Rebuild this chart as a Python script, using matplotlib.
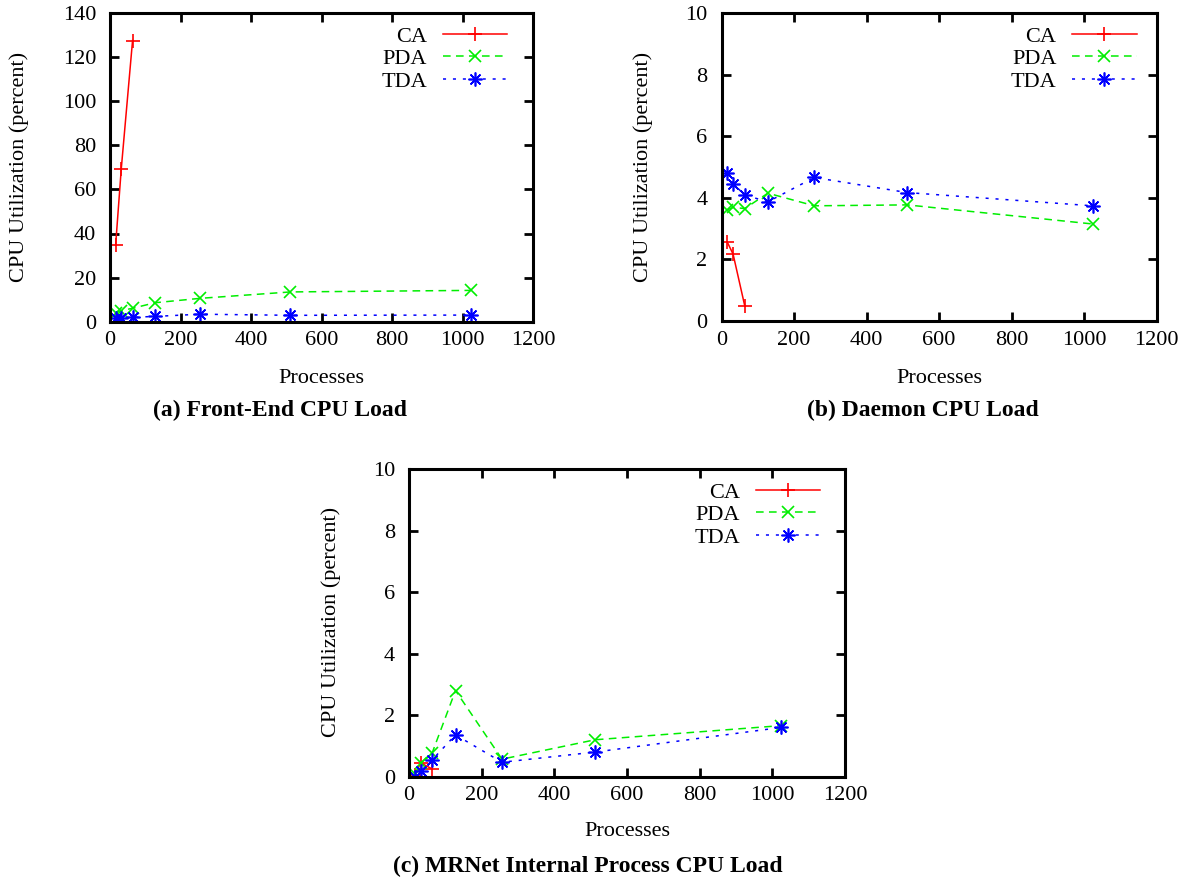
"""CPU load of the front-end, daemons and MRNet internal processes."""

import matplotlib
matplotlib.use("Agg")
import matplotlib.pyplot as plt

# process counts used in the runs
procs = [16, 32, 64, 128, 256, 512, 1024]
ca_procs = [16, 32, 64]

# (a) front-end CPU utilization (percent)
fe_ca = [34.8, 69.4, 127.5]
fe_pda = [4.0, 5.0, 6.1, 8.6, 10.6, 13.5, 14.2]
fe_tda = [1.5, 1.8, 2.0, 2.4, 3.4, 2.9, 3.0]

# (b) daemon CPU utilization (percent)
dm_ca = [2.56, 2.17, 0.5]
dm_pda = [3.61, 3.69, 3.65, 4.15, 3.74, 3.77, 3.15]
dm_tda = [4.82, 4.46, 4.09, 3.87, 4.66, 4.17, 3.74]

# (c) MRNet internal process CPU utilization (percent)
mr_ca = [0.05, 0.45, 0.25]
mr_pda = [0.1, 0.44, 0.78, 2.8, 0.57, 1.2, 1.66]
mr_tda = [0.0, 0.18, 0.55, 1.36, 0.47, 0.8, 1.6]

plt.rcParams["font.family"] = ["Liberation Serif", "DejaVu Serif"]
FS = 16
ASTERISK = (8, 2, 0)


def draw_panel(ax, ca, pda, tda, ymax, ystep, key_dx=0.0):
    ax.plot(ca_procs, ca, color="#ff0000", lw=1.1, marker="+", ms=10,
            mew=1.2, label="CA")
    ax.plot(procs, pda, color="#00ee00", lw=1.1, marker="x", ms=9,
            mew=1.2, dashes=(5, 3.5), label="PDA")
    ax.plot(procs, tda, color="#0000ff", lw=1.1, marker=ASTERISK, ms=10,
            mew=1.2, dashes=(2, 4.5), label="TDA")

    ax.set_xlim(0, 1200)
    ax.set_ylim(0, ymax)
    ax.set_xticks(range(0, 1201, 200))
    ax.set_yticks(range(0, ymax + 1, ystep))
    ax.tick_params(direction="in", length=6.5, width=2, labelsize=FS,
                   top=True, right=True)
    ax.tick_params(axis="y", pad=10)
    ax.tick_params(axis="x", pad=7)
    for sp in ax.spines.values():
        sp.set_linewidth(2.2)

    # key sits in the top right corner, labels right-aligned before samples
    bb = ax.get_position()
    w_px, h_px = bb.width * W, bb.height * H
    ax.legend(loc="upper right", frameon=False, fontsize=FS,
              markerfirst=False, handlelength=2.9, handletextpad=0.7,
              labelspacing=0.09, borderaxespad=0.5,
              bbox_to_anchor=(1 + key_dx / w_px, 1 + 7 / h_px))


fig = plt.figure(figsize=(11.88, 8.81), dpi=100)
W, H = 1188.0, 881.0


def add_axes(left, right, top, bottom):
    return fig.add_axes([left / W, 1 - bottom / H, (right - left) / W,
                         (bottom - top) / H])


ax_a = add_axes(110, 533, 13, 321.7)
ax_b = add_axes(721.5, 1156.5, 13, 321)
ax_c = add_axes(409, 845, 469, 776.7)

draw_panel(ax_a, fe_ca, fe_pda, fe_tda, 140, 20, key_dx=-6)
draw_panel(ax_b, dm_ca, dm_pda, dm_tda, 10, 2)
draw_panel(ax_c, mr_ca, mr_pda, mr_tda, 10, 2, key_dx=-5)

# axis labels and captions
ylab = "CPU Utilization (percent)"
for x, y in [(19, 167), (643, 167), (331, 622)]:
    fig.text(x / W, 1 - y / H, ylab, rotation=90, ha="center", va="center",
             fontsize=FS)
for x, y in [(321, 378), (939, 378), (627, 832)]:
    fig.text(x / W, 1 - y / H, "Processes", ha="center", va="center",
             fontsize=FS)

captions = [
    ("(a) Front-End CPU Load", 280, 410),
    ("(b) Daemon CPU Load", 923, 410),
    ("(c) MRNet Internal Process CPU Load", 588, 866),
]
for txt, x, y in captions:
    fig.text(x / W, 1 - y / H, txt, ha="center", va="center",
             fontsize=17, fontweight="bold")

fig.savefig("out.png", dpi=100, facecolor="white")
